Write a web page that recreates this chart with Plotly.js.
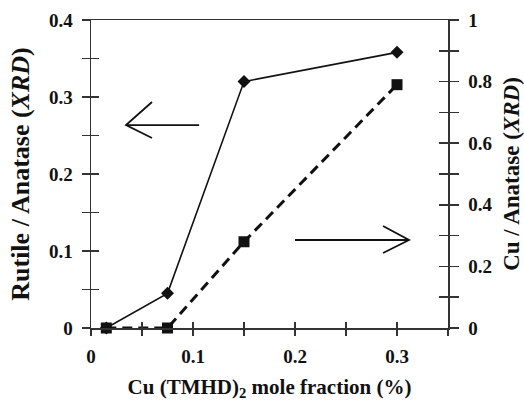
<!DOCTYPE html>
<html><head><meta charset="utf-8">
<script src="https://cdn.plot.ly/plotly-3.0.1.min.js"></script>
<style>html,body{margin:0;padding:0;background:#fff}#c{width:524px;height:401px}</style>
</head><body><div id="c"></div>
<script>
// Data
const moleFraction = [0.015, 0.075, 0.15, 0.30];
const rutileAnatase = [0, 0.045, 0.32, 0.358];   // left axis, diamonds, solid
const cuAnatase = [0, 0, 0.28, 0.79];             // right axis, squares, dashed

const FAM = "Liberation Serif, Times New Roman, serif";
const tickF = {family: FAM, size: 19, color: "#111", weight: "bold"};
const axCol = "#333";

const traces = [
  {x: moleFraction, y: rutileAnatase, xaxis: "x", yaxis: "y", mode: "lines+markers",
   line: {color: "#111", width: 1.6}, marker: {symbol: "diamond", size: 10, color: "#111"},
   cliponaxis: false, showlegend: false, hoverinfo: "skip"},
  {x: moleFraction, y: cuAnatase, xaxis: "x", yaxis: "y2", mode: "lines+markers",
   line: {color: "#111", width: 3, dash: "10px,6px"}, marker: {symbol: "square", size: 11, color: "#111"},
   cliponaxis: false, showlegend: false, hoverinfo: "skip"},
  {x: [0.1], y: [0.1], xaxis: "x2", yaxis: "y3", mode: "markers", marker: {opacity: 0}, showlegend: false, hoverinfo: "skip"},
  {x: [0.1], y: [0.1], xaxis: "x2", yaxis: "y4", mode: "markers", marker: {opacity: 0}, showlegend: false, hoverinfo: "skip"}
];

const arrowLine = {color: "#111", width: 1.8};
const layout = {
  width: 524, height: 401,
  margin: {l: 91, r: 76, t: 20, b: 73},
  paper_bgcolor: "#fff", plot_bgcolor: "#fff",
  font: tickF,
  showlegend: false,
  xaxis: {range: [0, 0.35], dtick: 0.1, tick0: 0, ticks: "outside", ticklen: 6, tickwidth: 1.5, tickcolor: axCol,
          minor: {dtick: 0.05, ticks: "outside", ticklen: 6, tickwidth: 1.5, tickcolor: axCol},
          showline: true, linecolor: axCol, linewidth: 1.5, mirror: true, showgrid: false, zeroline: false,
          tickfont: tickF, ticklabelstandoff: 5,
          title: {text: "Cu (TMHD)<sub>2</sub> mole fraction (%)", font: {family: FAM, size: 21, color: "#111", weight: "bold"}, standoff: 15}},
  xaxis2: {range: [0, 0.35], overlaying: "x", anchor: "y", dtick: 0.05, ticks: "inside", ticklen: 6, tickwidth: 1.5,
           tickcolor: axCol, showticklabels: false, showgrid: false, zeroline: false, showline: false},
  yaxis: {range: [0, 0.4], dtick: 0.1, tick0: 0, ticks: "outside", ticklen: 8, tickwidth: 1.5, tickcolor: axCol,
          minor: {dtick: 0.05, ticks: "outside", ticklen: 8, tickwidth: 1.5, tickcolor: axCol},
          showline: true, linecolor: axCol, linewidth: 1.5, showgrid: false, zeroline: false,
          tickfont: tickF, ticklabelstandoff: 5,
          title: {text: "Rutile / Anatase (<i>XRD</i>)", font: {family: FAM, size: 26, color: "#111", weight: "bold"}, standoff: 12}},
  yaxis2: {range: [0, 1], overlaying: "y", side: "right", anchor: "x", dtick: 0.2, tick0: 0, ticks: "outside",
           ticklen: 9, tickwidth: 1.5, tickcolor: axCol,
           minor: {dtick: 0.1, ticks: "outside", ticklen: 9, tickwidth: 1.5, tickcolor: axCol},
           showline: true, linecolor: axCol, linewidth: 1.5, showgrid: false, zeroline: false,
           tickfont: tickF, ticklabelstandoff: 6,
           title: {text: "Cu / Anatase (<i>XRD</i>)", font: {family: FAM, size: 23, color: "#111", weight: "bold"}, standoff: 14}},
  yaxis3: {range: [0, 0.4], overlaying: "y", side: "left", anchor: "x", dtick: 0.05, ticks: "inside", ticklen: 8,
           tickwidth: 1.5, tickcolor: axCol, showticklabels: false, showgrid: false, zeroline: false, showline: false},
  yaxis4: {range: [0, 1], overlaying: "y", side: "right", anchor: "x", dtick: 0.1, ticks: "inside", ticklen: 9,
           tickwidth: 1.5, tickcolor: axCol, showticklabels: false, showgrid: false, zeroline: false, showline: false},
  shapes: [
    {type: "path", xref: "x", yref: "y", path: "M0.106,0.2636 L0.0343,0.2636 M0.0598,0.2935 L0.0343,0.2636 L0.0598,0.2468", line: arrowLine},
    {type: "path", xref: "x", yref: "y", path: "M0.2,0.1143 L0.3118,0.1143 M0.2863,0.1325 L0.3118,0.1143 L0.2863,0.0974", line: arrowLine}
  ]
};

Plotly.newPlot("c", traces, layout, {staticPlot: true, displayModeBar: false});
</script></body></html>
